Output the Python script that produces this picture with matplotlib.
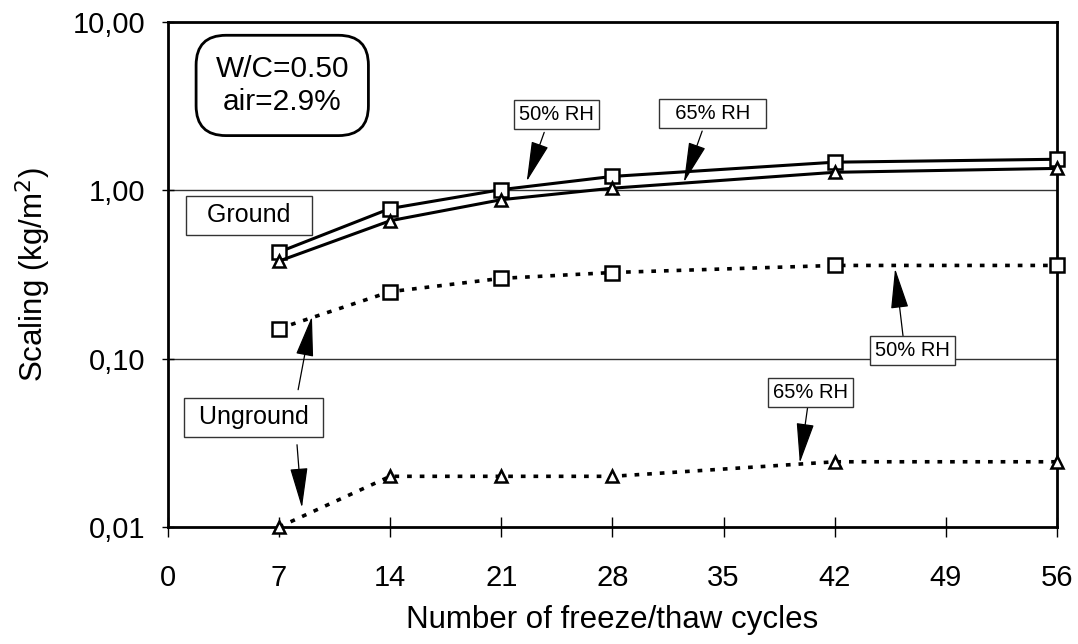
import matplotlib
matplotlib.use('Agg')
import matplotlib.pyplot as plt
from matplotlib.ticker import FixedLocator, FixedFormatter, NullLocator

plt.rcParams['font.family'] = ['Liberation Sans', 'DejaVu Sans']

# cycles
cycles = [7, 14, 21, 28, 42, 56]

# scaling, kg/m2
ground_50 = [0.43, 0.78, 1.01, 1.21, 1.47, 1.53]
ground_65 = [0.38, 0.66, 0.88, 1.03, 1.28, 1.35]
unground_50 = [0.151, 0.25, 0.30, 0.325, 0.358, 0.358]
unground_65 = [0.010, 0.020, 0.020, 0.020, 0.0244, 0.0244]

x_ticks = [0, 7, 14, 21, 28, 35, 42, 49, 56]
y_ticks = [0.01, 0.1, 1, 10]
y_tick_labels = ['0,01', '0,10', '1,00', '10,00']

fig = plt.figure(figsize=(10.78, 6.44), dpi=100)
ax = fig.add_axes([0.1558, 0.1817, 0.8247, 0.7841])

ax.set_yscale('log')
ax.set_xlim(0, 56)
ax.set_ylim(0.01, 10)

# horizontal grid
for g in [0.1, 1]:
    ax.axhline(g, color='#333333', lw=1.0, zorder=1)

sq = dict(marker='s', markersize=9.5, markerfacecolor='white',
          markeredgecolor='black', markeredgewidth=1.8, color='black')
tri = dict(marker='^', markersize=9, markerfacecolor='white',
           markeredgecolor='black', markeredgewidth=1.8, color='black')

ax.plot(cycles, ground_50, lw=2.2, zorder=3, clip_on=False, **sq)
ax.plot(cycles, ground_65, lw=2.2, zorder=3, clip_on=False, **tri)
ax.plot(cycles, unground_50, lw=2.6, ls=(0, (1.3, 2.2)), zorder=3, clip_on=False, **sq)
ax.plot(cycles, unground_65, lw=2.6, ls=(0, (1.3, 2.2)), zorder=3, clip_on=False, **tri)

ax.xaxis.set_major_locator(FixedLocator(x_ticks))
ax.yaxis.set_major_locator(FixedLocator(y_ticks))
ax.yaxis.set_major_formatter(FixedFormatter(y_tick_labels))
ax.yaxis.set_minor_locator(NullLocator())
ax.tick_params(axis='x', direction='inout', length=14, width=1, labelsize=21, pad=20)
ax.tick_params(axis='y', direction='inout', length=9, width=1, labelsize=21, pad=12)
for s in ax.spines.values():
    s.set_linewidth(2)

ax.set_xlabel('Number of freeze/thaw cycles', fontsize=22.5, labelpad=9)
ax.set_ylabel('Scaling (kg/m$^2$)', fontsize=22.5, labelpad=14)

box = dict(boxstyle='square,pad=0.25', facecolor='white', edgecolor='#333333', lw=1.0)
arrow = dict(arrowstyle='-|>,head_length=1.6,head_width=0.35', color='black',
             lw=0.9, mutation_scale=16, shrinkA=0, shrinkB=0)

ax.text(7.2, 4.2, 'W/C=0.50\nair=2.9%', fontsize=21.5, ha='center', va='center',
        linespacing=1.25,
        bbox=dict(boxstyle='round,pad=0.65,rounding_size=1.0', facecolor='white',
                  edgecolor='black', lw=2.0), zorder=5)

lbox = dict(boxstyle='square,pad=0.3', facecolor='white', edgecolor='#333333', lw=1.0)
ax.text(5.1, 0.71, '  Ground  ', fontsize=18, ha='center', va='center', bbox=lbox, zorder=5)
ax.text(5.4, 0.045, ' Unground ', fontsize=18, ha='center', va='center', bbox=lbox, zorder=5)
ax.annotate('', xy=(9.07, 0.178), xytext=(8.2, 0.0654), arrowprops=arrow, zorder=4)
ax.annotate('', xy=(8.44, 0.013), xytext=(8.13, 0.0308), arrowprops=arrow, zorder=4)

ax.text(24.45, 2.83, '50% RH', fontsize=14.5, ha='center', va='center', bbox=box, zorder=5)
ax.annotate('', xy=(22.6, 1.13), xytext=(23.7, 2.21), arrowprops=arrow, zorder=4)

ax.text(34.3, 2.87, '  65% RH  ', fontsize=14.5, ha='center', va='center', bbox=box, zorder=5)
ax.annotate('', xy=(32.5, 1.116), xytext=(33.65, 2.25), arrowprops=arrow, zorder=4)

ax.text(46.9, 0.1116, '50% RH', fontsize=14.5, ha='center', va='center', bbox=box, zorder=5)
ax.annotate('', xy=(45.8, 0.343), xytext=(46.35, 0.125), arrowprops=arrow, zorder=4)

ax.text(40.45, 0.063, '65% RH', fontsize=14.5, ha='center', va='center', bbox=box, zorder=5)
ax.annotate('', xy=(39.8, 0.024), xytext=(40.3, 0.052), arrowprops=arrow, zorder=4)

fig.savefig('out.png', dpi=100)
